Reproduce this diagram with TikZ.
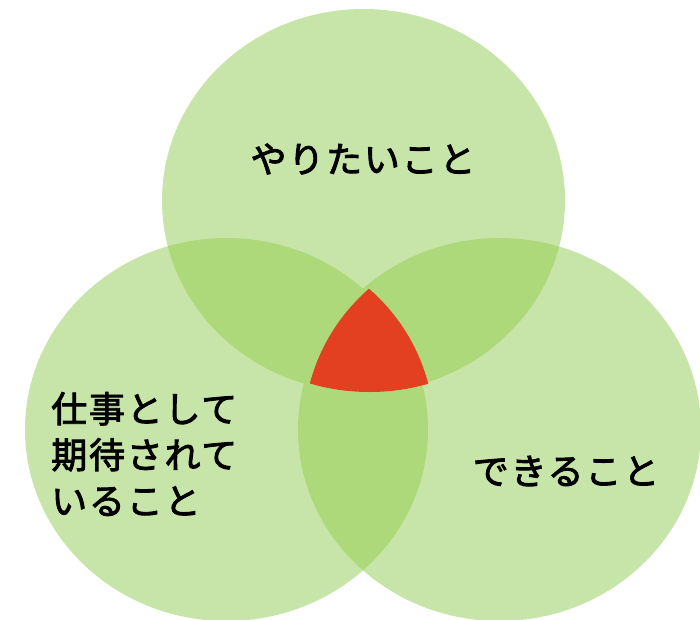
\documentclass[tikz,border=0pt]{standalone}
\usepackage{fontspec}
\newfontfamily\cjk[LetterSpace=5,FakeBold=2.5]{Noto Sans CJK JP}
\definecolor{lg}{RGB}{199,229,168}
\definecolor{mg}{RGB}{173,217,123}
\definecolor{rd}{RGB}{226,64,32}
\begin{document}
\begin{tikzpicture}[x=1pt,y=-1pt,
  lbl/.style={font=\cjk\fontsize{36}{46}\selectfont, text=black, inner sep=0pt}]
\useasboundingbox (0,0) rectangle (700,619);
\clip (0,0) rectangle (700,619);
% single circles
\fill[lg] (363.5,200.5) ellipse [x radius=201.5, y radius=191.5];
\fill[lg] (226.5,429.5) ellipse [x radius=201.5, y radius=191.5];
\fill[lg] (499.5,429.5) ellipse [x radius=201.5, y radius=191.5];
% pairwise overlaps
\begin{scope}
  \clip (363.5,200.5) ellipse [x radius=201.5, y radius=191.5];
  \fill[mg] (226.5,429.5) ellipse [x radius=201.5, y radius=191.5];
  \fill[mg] (499.5,429.5) ellipse [x radius=201.5, y radius=191.5];
\end{scope}
\begin{scope}
  \clip (226.5,429.5) ellipse [x radius=201.5, y radius=191.5];
  \fill[mg] (499.5,429.5) ellipse [x radius=201.5, y radius=191.5];
\end{scope}
% triple overlap (slightly offset, as in the reference)
\begin{scope}
  \clip (369.5,200.5) ellipse [x radius=201.5, y radius=191.5];
  \clip (232.5,429.5) ellipse [x radius=201.5, y radius=191.5];
  \fill[rd] (505.5,429.5) ellipse [x radius=201.5, y radius=191.5];
\end{scope}
% labels
\node[lbl] (want) at (363,159) {やりたいこと};
\node[lbl, anchor=west, align=left] (expected) at (51,454) {仕事として\\期待されて\\いること};
\node[lbl] (can) at (566,471) {できること};
\end{tikzpicture}
\end{document}
